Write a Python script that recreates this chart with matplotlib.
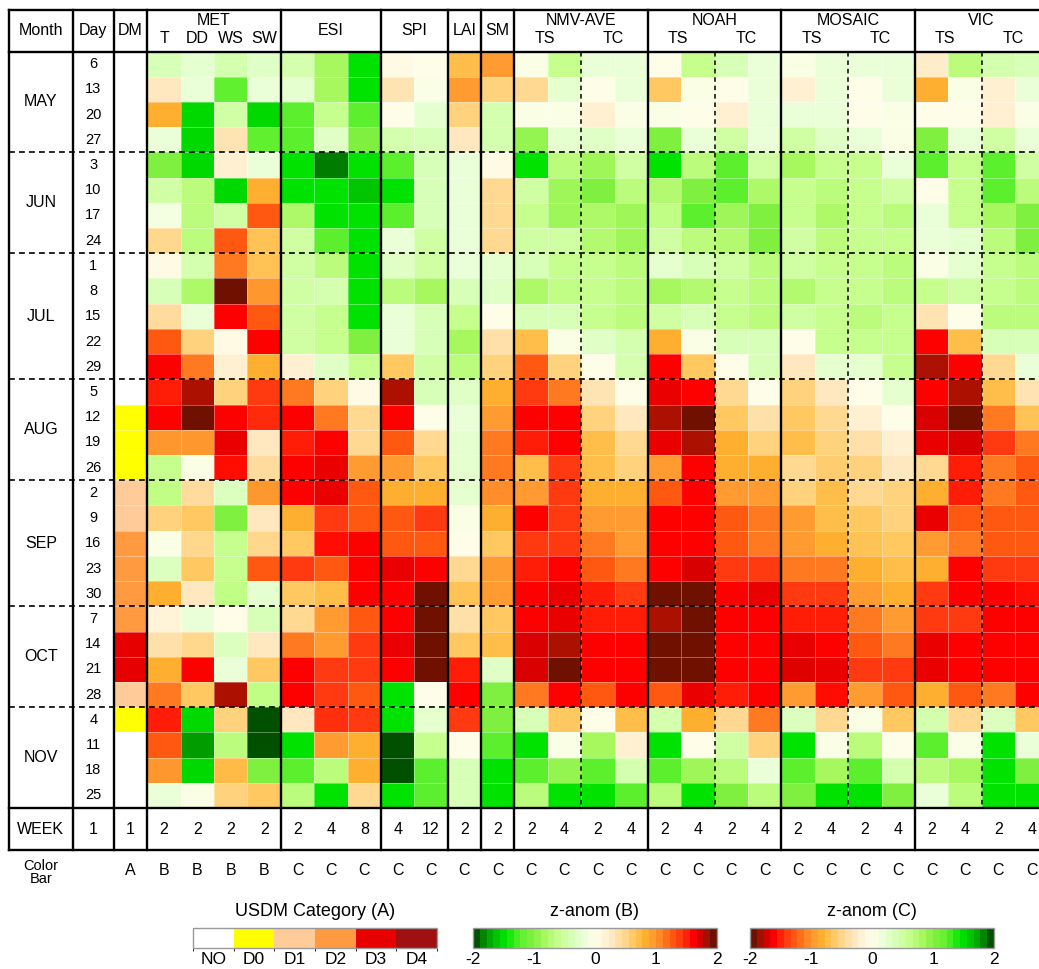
import numpy as np
import matplotlib.pyplot as plt
from matplotlib.colors import LinearSegmentedColormap, ListedColormap, BoundaryNorm, Normalize
from matplotlib.cm import ScalarMappable

plt.rcParams['font.family'] = ['Liberation Sans', 'DejaVu Sans']
plt.rcParams['axes.unicode_minus'] = False

# ------------------------------
# rows: weeks from May to Nov
# ------------------------------
month_names = ['MAY', 'JUN', 'JUL', 'AUG', 'SEP', 'OCT', 'NOV']
weeks_in_month = [4, 4, 5, 4, 5, 4, 4]
days = [6, 13, 20, 27, 3, 10, 17, 24, 1, 8, 15, 22, 29, 5, 12, 19, 26,
        2, 9, 16, 23, 30, 7, 14, 21, 28, 4, 11, 18, 25]

# USDM category: 0=NO 1=D0 2=D1 3=D2 4=D3 5=D4
dm = [0, 0, 0, 0, 0, 0, 0, 0, 0, 0, 0, 0, 0, 0, 1, 1, 1,
      2, 2, 3, 3, 3, 3, 4, 4, 2, 1, 0, 0, 0]

# MET z-anomalies (colour bar B)
met_t = [-0.4, 0.3, 0.85, -0.2, -1.05, -0.5, -0.1, 0.5, 0.05, -0.4, 0.45, 1.3, 1.65, 1.55, 1.65,
         1.0, -0.6, -0.65, 0.55, -0.05, -0.35, 0.85, 0.15, 0.4, 0.85, 1.15, 1.55, 1.3, 1.0, -0.2]
met_dd = [-0.25, -0.2, -1.55, -1.55, -1.55, -0.7, -0.7, -0.7, -0.45, -0.8, -0.2, 0.55, 1.15, 1.85, 2.0,
          1.0, -0.05, 0.45, 0.65, 0.5, 0.65, 0.3, -0.2, 0.5, 1.65, 0.65, -1.55, -1.8, -1.55, -0.05]
met_ws = [-0.45, -1.25, -0.5, 0.35, 0.2, -1.55, -0.5, 1.3, 1.15, 2.0, 1.65, 0.05, 0.2, 0.55, 1.65,
          1.7, 1.6, -0.35, -1.05, -0.6, -0.6, -0.65, 0.0, -0.35, -0.2, 1.85, 0.55, -0.7, 0.75, 0.55]
met_sw = [-0.3, -0.2, -1.55, -1.25, -0.2, 0.85, 1.3, 0.7, 0.7, 1.0, 1.3, 1.65, 0.85, 1.45, 1.5,
          0.3, 0.45, 1.0, 0.3, 0.5, 1.3, -0.25, -0.4, 0.3, 0.65, -0.65, -2.0, -2.0, -1.05, 0.65]

# ESI / SPI / LAI / SM z-anomalies (colour bar C)
esi_2wk = [0.45, 0.25, 1.25, 1.25, 1.5, 1.5, 0.8, 0.5, 0.5, 0.5, 0.5, 0.5, -0.2, -1.15, -1.65,
           -1.55, -1.65, -1.65, -0.85, -0.65, -1.45, -0.65, -0.5, -1.15, -1.65, -1.65, -0.3, 1.5, 1.25, 0.7]
esi_4wk = [0.85, 0.85, 0.6, 0.3, 1.9, 1.5, 1.5, 1.25, 0.7, 0.45, 0.6, 0.6, 0.3, -0.55, -1.15,
           -1.65, -1.7, -1.7, -1.45, -1.6, -1.3, -0.75, -1.0, -1.0, -1.45, -1.45, -1.5, -1.0, 0.7, 1.5]
esi_8wk = [1.5, 1.5, 1.25, 1.05, 1.5, 1.65, 1.5, 1.5, 1.5, 1.5, 1.5, 1.05, 0.6, -0.05, -0.5,
           -0.5, -1.0, -1.3, -1.3, -1.65, -1.65, -1.65, -1.3, -1.45, -1.45, -1.3, -1.45, -0.85, -0.85, -0.5]
spi_4wk = [-0.05, -0.35, 0.0, 0.45, 1.25, 1.5, 1.25, 0.2, 0.3, 0.7, 0.2, 0.2, -0.65, -1.85, -1.65,
           -1.3, -1.0, -0.85, -1.3, -1.3, -1.7, -1.65, -1.65, -1.7, -1.65, 1.5, 1.5, 2.0, 2.0, 1.5]
spi_12wk = [0.0, 0.05, 0.25, 0.4, 0.4, 0.4, 0.4, 0.5, 0.5, 0.85, 0.4, 0.4, 0.5, 0.4, 0.0,
            -0.5, -0.65, -0.85, -1.45, -1.3, -1.65, -2.0, -2.0, -2.0, -2.0, 0.0, 0.25, 0.6, 1.25, 1.25]
lai = [-0.75, -1.0, -0.55, -0.3, 0.2, 0.2, 0.2, 0.2, 0.2, 0.4, 0.6, 0.85, 0.7, 0.3, 0.2,
       0.25, 0.25, 0.25, 0.05, 0.0, -0.5, -0.7, -0.4, -0.65, -1.55, -1.65, -1.45, 0.0, 0.4, 0.4]
sm = [-1.0, -0.55, 0.45, 0.45, -0.05, -0.5, -0.5, -0.5, 0.25, 0.3, 0.0, -0.4, -0.55, -0.85, -1.0,
      -1.15, -1.15, -1.05, -0.85, -0.65, -1.0, -1.0, -0.65, -0.75, 0.3, 1.05, 1.05, 1.25, 1.5, 1.5]

# land surface models: TS 2wk, TS 4wk, TC 2wk, TC 4wk
nmv_ts2 = [0.05, -0.5, 0.05, 0.95, 1.5, 0.5, 0.6, 0.5, 0.4, 0.8, 0.4, -0.75, -1.3, -1.45, -1.65,
           -1.55, -0.75, -1.0, -1.65, -1.45, -1.55, -1.65, -1.65, -1.75, -1.75, -1.15, 0.4, 1.5, 1.25, 0.7]
nmv_ts4 = [0.6, 0.25, 0.05, 0.25, 0.7, 0.9, 0.9, 0.5, 0.6, 0.65, 0.4, 0.05, -0.55, -1.15, -1.65,
           -1.65, -1.45, -1.45, -1.45, -1.45, -1.65, -1.7, -1.7, -1.85, -2.0, -1.65, -0.65, 0.05, 0.95, 1.5]
nmv_tc2 = [0.2, 0.0, -0.2, 0.3, 0.9, 1.05, 0.8, 0.75, 0.6, 0.6, 0.6, 0.3, 0.0, -0.35, -0.55,
           -0.75, -0.75, -0.85, -1.0, -1.15, -1.3, -1.55, -1.55, -1.65, -1.65, -1.3, 0.0, 0.85, 1.25, 1.5]
nmv_tc4 = [0.2, 0.2, 0.05, 0.2, 0.5, 0.7, 0.9, 0.9, 0.7, 0.7, 0.7, 0.45, 0.45, 0.0, -0.3,
           -0.5, -0.55, -0.85, -1.0, -1.0, -1.15, -1.45, -1.55, -1.65, -1.65, -1.65, -0.75, -0.2, 0.45, 1.25]
noah_ts2 = [0.0, -0.65, 0.05, 1.05, 1.5, 0.75, 0.65, 0.5, 0.25, 0.85, 0.5, -0.85, -1.65, -1.7, -1.85,
            -1.7, -1.0, -1.3, -1.65, -1.65, -1.65, -2.0, -1.85, -2.0, -2.0, -1.3, 0.45, 1.5, 1.25, 0.7]
noah_ts4 = [0.6, 0.05, 0.0, 0.2, 0.7, 1.05, 1.25, 0.7, 0.4, 0.75, 0.4, 0.05, -0.65, -1.65, -2.0,
            -1.85, -1.65, -1.65, -1.65, -1.65, -1.75, -2.0, -2.0, -2.0, -2.0, -1.7, -0.85, 0.0, 0.9, 1.5]
noah_tc2 = [0.4, 0.0, -0.2, 0.5, 1.25, 1.25, 0.9, 0.75, 0.5, 0.6, 0.6, 0.4, 0.0, -0.5, -0.65,
            -0.85, -0.85, -1.0, -1.3, -1.3, -1.45, -1.65, -1.65, -1.65, -1.65, -1.55, -0.5, 0.5, 0.7, 1.05]
noah_tc4 = [0.2, 0.2, 0.2, 0.2, 0.5, 0.8, 1.05, 1.05, 0.7, 0.7, 0.7, 0.4, 0.4, 0.0, -0.4,
            -0.55, -0.85, -1.0, -1.15, -1.15, -1.45, -1.7, -1.65, -1.65, -1.65, -1.65, -1.15, -0.55, 0.2, 0.7]
mosaic_ts2 = [0.05, -0.2, 0.2, 0.5, 0.85, 0.6, 0.6, 0.5, 0.5, 0.75, 0.5, 0.0, -0.3, -0.55, -0.65,
              -0.75, -0.5, -0.55, -1.0, -1.0, -1.15, -1.45, -1.55, -1.7, -1.72, -1.0, 0.35, 1.5, 1.25, 1.05]
mosaic_ts4 = [0.2, 0.2, 0.2, 0.3, 0.6, 0.7, 0.8, 0.7, 0.6, 0.6, 0.6, 0.6, 0.25, -0.3, -0.5,
              -0.55, -0.6, -0.75, -0.75, -0.85, -1.15, -1.45, -1.55, -1.65, -1.7, -1.6, -0.5, 0.05, 0.85, 1.5]
mosaic_tc2 = [0.2, 0.0, 0.0, 0.2, 0.6, 0.6, 0.6, 0.6, 0.6, 0.6, 0.7, 0.6, 0.25, 0.0, -0.2,
              -0.4, -0.55, -0.5, -0.65, -0.7, -0.85, -1.0, -1.15, -1.3, -1.45, -1.0, 0.05, 0.7, 1.25, 1.5]
mosaic_tc4 = [0.2, 0.2, 0.05, 0.05, 0.2, 0.5, 0.7, 0.6, 0.7, 0.7, 0.6, 0.6, 0.6, 0.25, 0.0,
              -0.2, -0.3, -0.55, -0.55, -0.65, -0.75, -0.85, -1.0, -1.15, -1.45, -1.3, -0.65, 0.0, 0.45, 1.05]
vic_ts2 = [-0.25, -0.85, 0.0, 1.05, 1.25, 0.0, 0.2, 0.2, 0.05, 0.6, -0.35, -1.65, -1.85, -1.65, -1.75,
           -1.7, -0.5, -0.85, -1.7, -1.0, -0.85, -1.45, -1.45, -1.7, -1.7, -0.85, 0.45, 1.25, 0.7, 0.2]
vic_ts4 = [0.7, 0.05, 0.0, 0.2, 0.6, 0.6, 0.6, 0.25, 0.25, 0.5, 0.0, -0.75, -1.65, -1.85, -2.0,
           -1.75, -1.55, -1.55, -1.3, -1.15, -1.65, -1.65, -1.45, -1.65, -1.65, -1.3, -0.5, 0.05, 0.85, 0.7]
vic_tc2 = [0.45, -0.2, -0.2, 0.5, 1.25, 1.25, 0.85, 0.7, 0.6, 0.6, 0.7, 0.4, -0.5, -0.75, -1.15,
           -1.45, -1.15, -1.15, -1.3, -1.3, -1.45, -1.65, -1.65, -1.65, -1.65, -1.15, 0.35, 1.5, 1.5, 1.5]
vic_tc4 = [0.4, 0.2, 0.05, 0.2, 0.5, 0.7, 1.05, 1.05, 0.7, 0.7, 0.7, 0.4, 0.2, -0.35, -0.7,
           -1.15, -1.3, -1.3, -1.3, -1.3, -1.45, -1.6, -1.65, -1.65, -1.65, -1.65, -0.65, 0.2, 1.05, 1.5]

# column headers / footers
groups = [('DM', 1, []), ('MET', 4, ['T', 'DD', 'WS', 'SW']), ('ESI', 3, []), ('SPI', 2, []),
          ('LAI', 1, []), ('SM', 1, []), ('NMV-AVE', 4, ['TS', 'TC']), ('NOAH', 4, ['TS', 'TC']),
          ('MOSAIC', 4, ['TS', 'TC']), ('VIC', 4, ['TS', 'TC'])]
week_window = [1, 2, 2, 2, 2, 2, 4, 8, 4, 12, 2, 2,
               2, 4, 2, 4, 2, 4, 2, 4, 2, 4, 2, 4, 2, 4, 2, 4]
bar_letter = ['A'] + ['B'] * 4 + ['C'] * 23
usdm_labels = ['NO', 'D0', 'D1', 'D2', 'D3', 'D4']

# ------------------------------
# colour maps
# ------------------------------
c_anchor = [(-2.0, '#701000'), (-1.85, '#b01000'), (-1.75, '#d80000'), (-1.65, '#ff0000'),
            (-1.55, '#ff2008'), (-1.45, '#ff3a10'), (-1.3, '#ff5a10'), (-1.15, '#ff7a20'),
            (-1.0, '#ff9a30'), (-0.85, '#ffb030'), (-0.65, '#ffc860'), (-0.5, '#ffd890'),
            (-0.3, '#ffe8c0'), (-0.1, '#fff8e0'), (0.0, '#fffde8'), (0.2, '#eaffd8'),
            (0.4, '#d8ffb8'), (0.6, '#c8ff90'), (0.85, '#a8f860'), (1.05, '#80f040'),
            (1.25, '#60f030'), (1.5, '#00e600'), (1.75, '#00b000'), (1.9, '#008000'), (2.0, '#005000')]
cmap_c = LinearSegmentedColormap.from_list(
    'zc', [((v + 2) / 4, c) for v, c in c_anchor], N=256)
cmap_b = cmap_c.reversed()
znorm = Normalize(-2, 2)
usdm_cmap = ListedColormap(['#ffffff', '#ffff00', '#ffcc99', '#ff9a40', '#e60000', '#a01010'])
usdm_norm = BoundaryNorm(np.arange(-0.5, 6.5), 6)

# ------------------------------
# figure / table axes
# ------------------------------
W, H = 1039, 969
fig = plt.figure(figsize=(W / 100, H / 100), dpi=100)
x0, y0, cw, rh = 114, 51.5, 33.37, 25.22
nrow, ncol = len(days), len(week_window)
ax = fig.add_axes([x0 / W, 1 - (y0 + nrow * rh) / H, ncol * cw / W, nrow * rh / H])
ax.set_xlim(0, ncol)
ax.set_ylim(nrow, 0)
ax.axis('off')

month_left = (9 - x0) / cw
day_left = (72.7 - x0) / cw
head_top = (10 - y0) / rh
week_bot = (850 - y0) / rh
rows = np.arange(nrow + 1)
edge = dict(edgecolors=(1, 1, 1, 0.35), linewidth=0.4)

ax.pcolormesh([0, 1], rows, np.array(dm)[:, None], cmap=usdm_cmap, norm=usdm_norm, **edge)
met = np.column_stack([met_t, met_dd, met_ws, met_sw])
ax.pcolormesh(np.arange(1, 6), rows, met, cmap=cmap_b, norm=znorm, **edge)
rest = np.column_stack([esi_2wk, esi_4wk, esi_8wk, spi_4wk, spi_12wk, lai, sm,
                        nmv_ts2, nmv_ts4, nmv_tc2, nmv_tc4,
                        noah_ts2, noah_ts4, noah_tc2, noah_tc4,
                        mosaic_ts2, mosaic_ts4, mosaic_tc2, mosaic_tc4,
                        vic_ts2, vic_ts4, vic_tc2, vic_tc4])
ax.pcolormesh(np.arange(5, ncol + 1), rows, rest, cmap=cmap_c, norm=znorm, **edge)


def line(x, y, **kw):
    ax.plot(x, y, color='black', clip_on=False, **kw)


# group borders
starts = np.cumsum([0] + [g[1] for g in groups])
for xv in [month_left, day_left] + list(starts):
    line([xv, xv], [head_top, week_bot], lw=1.7)
for yv in [head_top, 0, nrow, week_bot]:
    line([month_left, ncol], [yv, yv], lw=1.7)

# month separators
month_edges = np.cumsum(weeks_in_month)
for yv in month_edges[:-1]:
    line([month_left, ncol], [yv, yv], lw=1.2, ls=(0, (3.5, 2.5)))
# TS | TC separators
for (name, n, subs), s in zip(groups, starts):
    if subs == ['TS', 'TC']:
        line([s + 2, s + 2], [0, nrow], lw=1.1, ls=(0, (3, 2.5)))

# ------------------------------
# text
# ------------------------------
fs = 11.5
mx = (month_left + day_left) / 2
dx = day_left / 2
ax.text(mx, -0.84, 'Month', ha='center', va='center', fontsize=fs)
ax.text(dx, -0.84, 'Day', ha='center', va='center', fontsize=fs)
for (name, n, subs), s in zip(groups, starts):
    if not subs:
        ax.text(s + n / 2, -0.84, name, ha='center', va='center', fontsize=fs)
        continue
    ax.text(s + n / 2, -1.22, name, ha='center', va='center', fontsize=fs)
    if len(subs) == n:
        pos = [s + 0.5 + i for i in range(n)]
    else:
        pos = [s + 0.9, s + 2.95]
    for p, lab in zip(pos, subs):
        ax.text(p, -0.5, lab, ha='center', va='center', fontsize=fs)

mstart = np.concatenate([[0], month_edges[:-1]])
for name, a, b in zip(month_names, mstart, month_edges):
    ax.text(mx, (a + b) / 2, name, ha='center', va='center', fontsize=fs)
for i, d in enumerate(days):
    ax.text(dx, i + 0.5, str(d), ha='center', va='center', fontsize=10.5)

wy = (nrow + week_bot) / 2
ax.text(mx, wy, 'WEEK', ha='center', va='center', fontsize=fs)
ax.text(dx, wy, '1', ha='center', va='center', fontsize=fs)
for i, w in enumerate(week_window):
    ax.text(i + 0.5, wy, str(w), ha='center', va='center', fontsize=fs)

by = (871 - y0) / rh
ax.text(mx, by + 0.05, 'Color\nBar', ha='center', va='center', fontsize=10.5, linespacing=0.95)
for i, c in enumerate(bar_letter):
    ax.text(i + 0.5, by, c, ha='center', va='center', fontsize=fs)

# ------------------------------
# colour bars
# ------------------------------
cb_y, cb_h, cb_w = 1 - 948 / H, 20 / H, 244 / W
bars = [(193, 'USDM Category (A)'), (473, 'z-anom (B)'), (750, 'z-anom (C)')]
caxes = []
for left, title in bars:
    cax = fig.add_axes([left / W, cb_y, cb_w, cb_h])
    caxes.append(cax)
    fig.text((left + 122) / W, 1 - 912 / H, title, ha='center', va='center', fontsize=13)

cb_a = fig.colorbar(ScalarMappable(usdm_norm, usdm_cmap), cax=caxes[0],
                    orientation='horizontal', ticks=range(6))
cb_a.set_ticklabels(usdm_labels)
cb_b = fig.colorbar(ScalarMappable(znorm, cmap_b.resampled(36)), cax=caxes[1],
                    orientation='horizontal', ticks=[-2, -1, 0, 1, 2])
cb_c = fig.colorbar(ScalarMappable(znorm, cmap_c.resampled(36)), cax=caxes[2],
                    orientation='horizontal', ticks=[-2, -1, 0, 1, 2])
for cb in (cb_a, cb_b, cb_c):
    cb.ax.tick_params(length=0, labelsize=12.5, pad=3)
    cb.outline.set_edgecolor('#999999')
    cb.outline.set_linewidth(1.0)

fig.savefig('out.png', dpi=100)
